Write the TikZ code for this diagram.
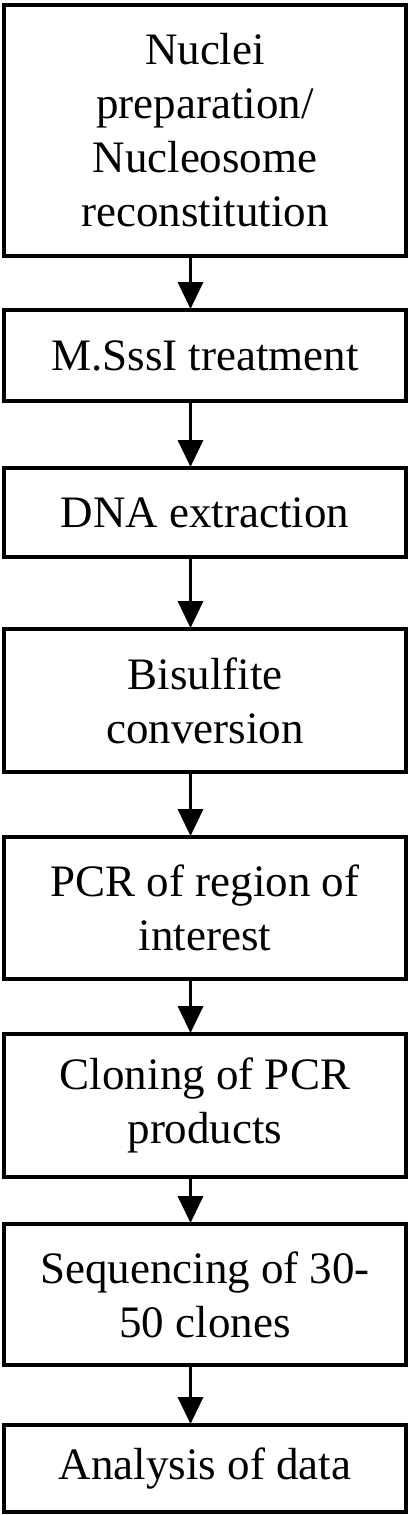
\documentclass[tikz,border=0pt]{standalone}
\usepackage{fontspec}
\setmainfont{Liberation Serif}
\usetikzlibrary{arrows.meta,calc}
\begin{document}
\begin{tikzpicture}[x=1pt,y=-1pt,
  stepbox/.style={draw,line width=3.5pt,minimum width=402pt,inner sep=0pt,outer sep=0pt,
    align=center,font=\fontsize{45}{54}\selectfont},
  arr/.style={line width=3.5pt,-{Triangle[width=25pt,length=27pt]}}]
\useasboundingbox (0,0) rectangle (409,1515);
\node[stepbox,minimum height=251pt] (b1) at (205,130.5) {Nuclei\\preparation/\\Nucleosome\\reconstitution};
\node[stepbox,minimum height=91pt] (b2) at (205,355.5) {M.SssI treatment};
\node[stepbox,minimum height=89pt] (b3) at (205,512.5) {DNA extraction};
\node[stepbox,minimum height=143pt] (b4) at (205,700.5) {Bisulfite\\conversion};
\node[stepbox,minimum height=142pt] (b5) at (205,908) {PCR of region of\\interest};
\node[stepbox,minimum height=143pt] (b6) at (205,1105.5) {Cloning of PCR\\products};
\node[stepbox,minimum height=141pt] (b7) at (205,1294.5) {Sequencing of 30-\\50 clones};
\node[stepbox,minimum height=87pt] (b8) at (205,1468.5) {Analysis of data};
\foreach \a/\b in {b1/b2,b2/b3,b3/b4,b4/b5,b5/b6,b6/b7,b7/b8}
  \draw[arr] ($(\a.south)+(-14.5,-1.75)$) -- ($(\b.north)+(-14.5,-1)$);
\end{tikzpicture}
\end{document}
